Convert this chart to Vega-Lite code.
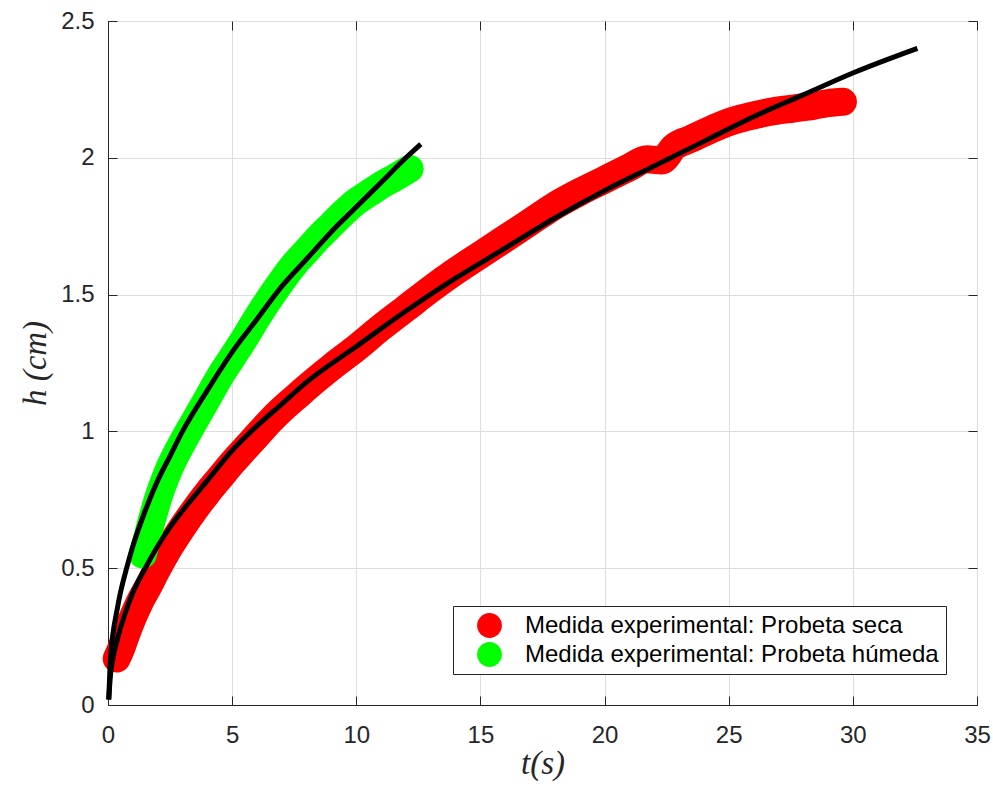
{
  "$schema": "https://vega.github.io/schema/vega-lite/v6.json",
  "width": 869,
  "height": 684,
  "autosize": {"type": "none"},
  "padding": {"left": 108, "top": 21, "right": 16, "bottom": 84},
  "background": "white",
  "config": {
    "view": {"stroke": "#262626", "strokeWidth": 1},
    "axis": {
      "labelFont": "Liberation Sans",
      "labelFontSize": 24,
      "labelColor": "#262626",
      "labelFlush": false,
      "domainColor": "#262626",
      "tickColor": "#262626",
      "gridColor": "#dedede",
      "gridWidth": 1,
      "tickSize": -9,
      "titleColor": "#262626",
      "titleFont": "Liberation Serif",
      "titleFontStyle": "italic",
      "titleFontWeight": "normal",
      "titleFontSize": 33
    },
    "legend": {
      "orient": "none",
      "legendX": 345,
      "legendY": 585,
      "strokeColor": "#262626",
      "fillColor": "#ffffff",
      "padding": 7,
      "symbolOffset": 17,
      "symbolSize": 615,
      "symbolStrokeWidth": 0,
      "labelFont": "Liberation Sans",
      "labelFontSize": 24,
      "labelColor": "#000000",
      "labelOffset": 23,
      "labelLimit": 600,
      "rowPadding": 4,
      "title": null
    }
  },
  "datasets": {
    "exp": [
      {"serie": "Medida experimental: Probeta seca", "t": 0.35, "h": 0.17},
      {"serie": "Medida experimental: Probeta seca", "t": 0.5, "h": 0.2},
      {"serie": "Medida experimental: Probeta seca", "t": 0.7, "h": 0.25},
      {"serie": "Medida experimental: Probeta seca", "t": 1.0, "h": 0.32},
      {"serie": "Medida experimental: Probeta seca", "t": 1.3, "h": 0.38},
      {"serie": "Medida experimental: Probeta seca", "t": 1.6, "h": 0.43},
      {"serie": "Medida experimental: Probeta seca", "t": 2.0, "h": 0.5},
      {"serie": "Medida experimental: Probeta seca", "t": 2.5, "h": 0.58},
      {"serie": "Medida experimental: Probeta seca", "t": 3.0, "h": 0.65},
      {"serie": "Medida experimental: Probeta seca", "t": 3.5, "h": 0.715},
      {"serie": "Medida experimental: Probeta seca", "t": 4.0, "h": 0.775},
      {"serie": "Medida experimental: Probeta seca", "t": 4.5, "h": 0.83},
      {"serie": "Medida experimental: Probeta seca", "t": 5.0, "h": 0.885},
      {"serie": "Medida experimental: Probeta seca", "t": 5.5, "h": 0.935},
      {"serie": "Medida experimental: Probeta seca", "t": 6.0, "h": 0.985},
      {"serie": "Medida experimental: Probeta seca", "t": 6.5, "h": 1.035},
      {"serie": "Medida experimental: Probeta seca", "t": 7.0, "h": 1.08},
      {"serie": "Medida experimental: Probeta seca", "t": 7.5, "h": 1.12},
      {"serie": "Medida experimental: Probeta seca", "t": 8.0, "h": 1.16},
      {"serie": "Medida experimental: Probeta seca", "t": 9.0, "h": 1.235},
      {"serie": "Medida experimental: Probeta seca", "t": 10.0, "h": 1.305},
      {"serie": "Medida experimental: Probeta seca", "t": 11.0, "h": 1.38},
      {"serie": "Medida experimental: Probeta seca", "t": 12.0, "h": 1.45},
      {"serie": "Medida experimental: Probeta seca", "t": 13.0, "h": 1.52},
      {"serie": "Medida experimental: Probeta seca", "t": 14.0, "h": 1.585},
      {"serie": "Medida experimental: Probeta seca", "t": 15.0, "h": 1.645},
      {"serie": "Medida experimental: Probeta seca", "t": 16.0, "h": 1.705},
      {"serie": "Medida experimental: Probeta seca", "t": 17.0, "h": 1.765},
      {"serie": "Medida experimental: Probeta seca", "t": 18.0, "h": 1.825},
      {"serie": "Medida experimental: Probeta seca", "t": 19.0, "h": 1.875},
      {"serie": "Medida experimental: Probeta seca", "t": 20.0, "h": 1.92},
      {"serie": "Medida experimental: Probeta seca", "t": 21.0, "h": 1.965},
      {"serie": "Medida experimental: Probeta seca", "t": 21.7, "h": 1.995},
      {"serie": "Medida experimental: Probeta seca", "t": 22.3, "h": 1.99},
      {"serie": "Medida experimental: Probeta seca", "t": 22.8, "h": 2.04},
      {"serie": "Medida experimental: Probeta seca", "t": 23.5, "h": 2.07},
      {"serie": "Medida experimental: Probeta seca", "t": 24.2, "h": 2.1},
      {"serie": "Medida experimental: Probeta seca", "t": 25.0, "h": 2.13},
      {"serie": "Medida experimental: Probeta seca", "t": 26.0, "h": 2.155},
      {"serie": "Medida experimental: Probeta seca", "t": 26.8, "h": 2.17},
      {"serie": "Medida experimental: Probeta seca", "t": 27.6, "h": 2.18},
      {"serie": "Medida experimental: Probeta seca", "t": 28.4, "h": 2.19},
      {"serie": "Medida experimental: Probeta seca", "t": 29.0, "h": 2.2},
      {"serie": "Medida experimental: Probeta seca", "t": 29.6, "h": 2.205},
      {"serie": "Medida experimental: Probeta húmeda", "t": 1.4, "h": 0.55},
      {"serie": "Medida experimental: Probeta húmeda", "t": 1.55, "h": 0.6},
      {"serie": "Medida experimental: Probeta húmeda", "t": 1.75, "h": 0.67},
      {"serie": "Medida experimental: Probeta húmeda", "t": 2.0, "h": 0.75},
      {"serie": "Medida experimental: Probeta húmeda", "t": 2.4, "h": 0.85},
      {"serie": "Medida experimental: Probeta húmeda", "t": 3.0, "h": 0.96},
      {"serie": "Medida experimental: Probeta húmeda", "t": 3.5, "h": 1.04},
      {"serie": "Medida experimental: Probeta húmeda", "t": 4.0, "h": 1.12},
      {"serie": "Medida experimental: Probeta húmeda", "t": 4.5, "h": 1.2},
      {"serie": "Medida experimental: Probeta húmeda", "t": 5.0, "h": 1.27},
      {"serie": "Medida experimental: Probeta húmeda", "t": 5.5, "h": 1.34},
      {"serie": "Medida experimental: Probeta húmeda", "t": 6.0, "h": 1.415},
      {"serie": "Medida experimental: Probeta húmeda", "t": 6.5, "h": 1.485},
      {"serie": "Medida experimental: Probeta húmeda", "t": 7.0, "h": 1.55},
      {"serie": "Medida experimental: Probeta húmeda", "t": 7.5, "h": 1.61},
      {"serie": "Medida experimental: Probeta húmeda", "t": 8.0, "h": 1.66},
      {"serie": "Medida experimental: Probeta húmeda", "t": 8.5, "h": 1.71},
      {"serie": "Medida experimental: Probeta húmeda", "t": 9.0, "h": 1.755},
      {"serie": "Medida experimental: Probeta húmeda", "t": 9.5, "h": 1.8},
      {"serie": "Medida experimental: Probeta húmeda", "t": 10.0, "h": 1.84},
      {"serie": "Medida experimental: Probeta húmeda", "t": 10.5, "h": 1.87},
      {"serie": "Medida experimental: Probeta húmeda", "t": 11.0, "h": 1.9},
      {"serie": "Medida experimental: Probeta húmeda", "t": 11.5, "h": 1.925},
      {"serie": "Medida experimental: Probeta húmeda", "t": 12.15, "h": 1.96}
    ],
    "ajuste": [
      {"curva": "seca", "t": 0.03, "h": 0.02},
      {"curva": "seca", "t": 0.1, "h": 0.11},
      {"curva": "seca", "t": 0.2, "h": 0.17},
      {"curva": "seca", "t": 0.35, "h": 0.23},
      {"curva": "seca", "t": 0.5, "h": 0.28},
      {"curva": "seca", "t": 0.75, "h": 0.35},
      {"curva": "seca", "t": 1.0, "h": 0.41},
      {"curva": "seca", "t": 1.5, "h": 0.5},
      {"curva": "seca", "t": 2.0, "h": 0.58},
      {"curva": "seca", "t": 2.5, "h": 0.65},
      {"curva": "seca", "t": 3.0, "h": 0.71},
      {"curva": "seca", "t": 4.0, "h": 0.82},
      {"curva": "seca", "t": 5.0, "h": 0.93},
      {"curva": "seca", "t": 6.0, "h": 1.02},
      {"curva": "seca", "t": 7.0, "h": 1.1},
      {"curva": "seca", "t": 8.0, "h": 1.18},
      {"curva": "seca", "t": 10.0, "h": 1.31},
      {"curva": "seca", "t": 12.0, "h": 1.44},
      {"curva": "seca", "t": 14.0, "h": 1.56},
      {"curva": "seca", "t": 16.0, "h": 1.67},
      {"curva": "seca", "t": 18.0, "h": 1.78},
      {"curva": "seca", "t": 20.0, "h": 1.88},
      {"curva": "seca", "t": 22.0, "h": 1.97},
      {"curva": "seca", "t": 24.0, "h": 2.06},
      {"curva": "seca", "t": 26.0, "h": 2.15},
      {"curva": "seca", "t": 28.0, "h": 2.23},
      {"curva": "seca", "t": 30.0, "h": 2.31},
      {"curva": "seca", "t": 32.6, "h": 2.4},
      {"curva": "humeda", "t": 0.03, "h": 0.02},
      {"curva": "humeda", "t": 0.1, "h": 0.17},
      {"curva": "humeda", "t": 0.2, "h": 0.26},
      {"curva": "humeda", "t": 0.35, "h": 0.34},
      {"curva": "humeda", "t": 0.5, "h": 0.41},
      {"curva": "humeda", "t": 0.75, "h": 0.5},
      {"curva": "humeda", "t": 1.0, "h": 0.58},
      {"curva": "humeda", "t": 1.5, "h": 0.71},
      {"curva": "humeda", "t": 2.0, "h": 0.82},
      {"curva": "humeda", "t": 2.5, "h": 0.91},
      {"curva": "humeda", "t": 3.0, "h": 1.0},
      {"curva": "humeda", "t": 4.0, "h": 1.15},
      {"curva": "humeda", "t": 5.0, "h": 1.29},
      {"curva": "humeda", "t": 6.0, "h": 1.41},
      {"curva": "humeda", "t": 7.0, "h": 1.53},
      {"curva": "humeda", "t": 8.0, "h": 1.63},
      {"curva": "humeda", "t": 9.0, "h": 1.73},
      {"curva": "humeda", "t": 10.0, "h": 1.82},
      {"curva": "humeda", "t": 11.0, "h": 1.91},
      {"curva": "humeda", "t": 12.0, "h": 2.0},
      {"curva": "humeda", "t": 12.6, "h": 2.05}
    ]
  },
  "layer": [
    {
      "data": {"name": "exp"},
      "transform": [{"filter": "datum.serie == 'Medida experimental: Probeta seca'"}],
      "mark": {"type": "line", "color": "#ff0000", "strokeWidth": 28, "strokeCap": "round", "strokeJoin": "round", "interpolate": "monotone"},
      "encoding": {
        "x": {"field": "t", "type": "quantitative", "scale": {"domain": [0, 35], "nice": false},
          "axis": {"orient": "bottom", "values": [0, 5, 10, 15, 20, 25, 30, 35], "format": "~g", "grid": true, "labelPadding": 27, "title": "t(s)", "titlePadding": 0}},
        "y": {"field": "h", "type": "quantitative", "scale": {"domain": [0, 2.5], "nice": false},
          "axis": {"orient": "left", "values": [0, 0.5, 1, 1.5, 2, 2.5], "format": "~g", "grid": true, "labelPadding": 23, "title": "h (cm)", "titlePadding": 8}}
      }
    },
    {
      "data": {"name": "exp"},
      "transform": [{"filter": "datum.serie == 'Medida experimental: Probeta seca'"}],
      "mark": {"type": "point", "shape": "circle", "filled": true, "opacity": 1, "size": 615},
      "encoding": {
        "x": {"field": "t", "type": "quantitative", "axis": null},
        "y": {"field": "h", "type": "quantitative", "axis": null},
        "color": {"field": "serie", "type": "nominal",
          "scale": {"domain": ["Medida experimental: Probeta seca", "Medida experimental: Probeta húmeda"], "range": ["#ff0000", "#00ff00"]},
          "legend": {}}
      }
    },
    {
      "data": {"name": "exp"},
      "transform": [{"filter": "datum.serie == 'Medida experimental: Probeta húmeda'"}],
      "mark": {"type": "line", "color": "#00ff00", "strokeWidth": 28, "strokeCap": "round", "strokeJoin": "round", "interpolate": "monotone"},
      "encoding": {
        "x": {"field": "t", "type": "quantitative", "axis": null},
        "y": {"field": "h", "type": "quantitative", "axis": null}
      }
    },
    {
      "data": {"name": "exp"},
      "transform": [{"filter": "datum.serie == 'Medida experimental: Probeta húmeda'"}],
      "mark": {"type": "point", "shape": "circle", "filled": true, "opacity": 1, "size": 615},
      "encoding": {
        "x": {"field": "t", "type": "quantitative", "axis": null},
        "y": {"field": "h", "type": "quantitative", "axis": null},
        "color": {"field": "serie", "type": "nominal",
          "scale": {"domain": ["Medida experimental: Probeta seca", "Medida experimental: Probeta húmeda"], "range": ["#ff0000", "#00ff00"]},
          "legend": {}}
      }
    },
    {
      "data": {"name": "ajuste"},
      "mark": {"type": "line", "color": "#000000", "strokeWidth": 5, "interpolate": "monotone"},
      "encoding": {
        "x": {"field": "t", "type": "quantitative",
          "axis": {"orient": "top", "values": [0, 5, 10, 15, 20, 25, 30, 35], "labels": false, "grid": false, "domain": false, "title": null}},
        "y": {"field": "h", "type": "quantitative",
          "axis": {"orient": "right", "values": [0, 0.5, 1, 1.5, 2, 2.5], "labels": false, "grid": false, "domain": false, "title": null}},
        "detail": {"field": "curva"}
      }
    }
  ],
  "resolve": {"axis": {"x": "independent", "y": "independent"}}
}
